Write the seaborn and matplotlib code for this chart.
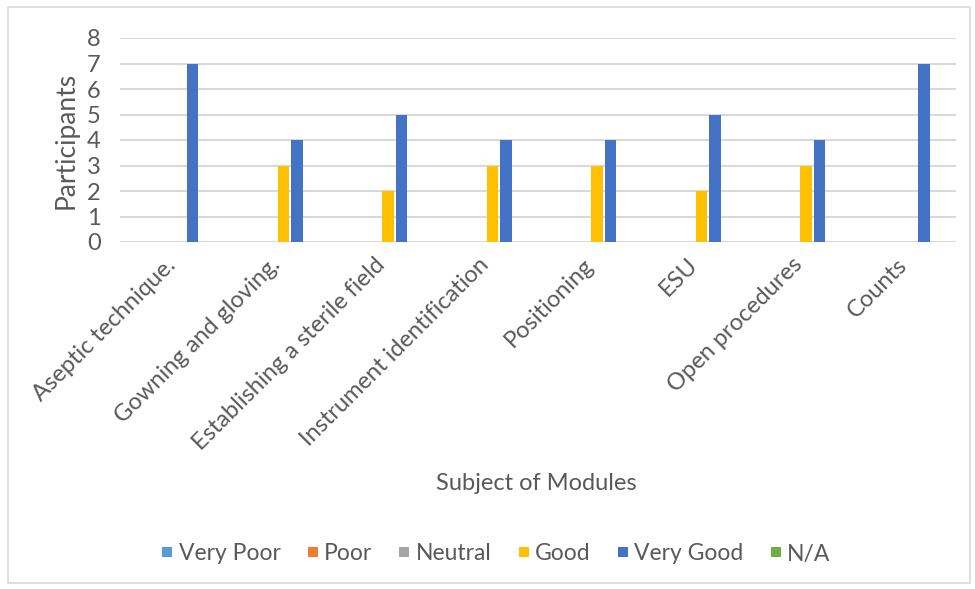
import pandas as pd
import matplotlib.pyplot as plt
import seaborn as sns
from matplotlib.patches import Rectangle
from matplotlib.lines import Line2D

# -------------------- DATA --------------------
modules = ["Aseptic technique.", "Gowning and gloving.", "Establishing a sterile field",
           "Instrument identification", "Positioning", "ESU", "Open procedures", "Counts"]
ratings = ["Very Poor", "Poor", "Neutral", "Good", "Very Good", "N/A"]
very_poor = [0, 0, 0, 0, 0, 0, 0, 0]
poor = [0, 0, 0, 0, 0, 0, 0, 0]
neutral = [0, 0, 0, 0, 0, 0, 0, 0]
good = [0, 3, 2, 3, 3, 2, 3, 0]
very_good = [7, 4, 5, 4, 4, 5, 4, 7]
na = [0, 0, 0, 0, 0, 0, 0, 0]
colors = ["#5b9bd5", "#ed7d31", "#a5a5a5", "#ffc000", "#4472c4", "#70ad47"]

# -------------------- PLOT --------------------
def main():
    series = [very_poor, poor, neutral, good, very_good, na]
    rows = []
    for r, vals in zip(ratings, series):
        for m, v in zip(modules, vals):
            rows.append({"Module": m, "Rating": r, "Participants": v})
    df = pd.DataFrame(rows)

    sns.set_style("white")
    plt.rcParams['font.family'] = ['Lato', 'DejaVu Sans']
    text_color = "#595959"

    fig = plt.figure(figsize=(9.75, 5.89), dpi=100)
    ax = fig.add_axes([120 / 975, 1 - 242 / 589, 836 / 975, 204 / 589])

    sns.barplot(data=df, x="Module", y="Participants", hue="Rating",
                hue_order=ratings, palette=colors, saturation=1, width=0.78, gap=0.15,
                linewidth=0, ax=ax, legend=False)

    ax.set_ylim(0, 8)
    ax.set_yticks(range(9))
    ax.yaxis.grid(True, color="#d9d9d9", linewidth=1.5)
    ax.set_axisbelow(True)
    for s in ax.spines.values():
        s.set_visible(False)
    ax.tick_params(axis="both", length=0, colors=text_color)
    ax.tick_params(axis="y", labelsize=17, pad=14)
    ax.tick_params(axis="x", labelsize=17, pad=14)
    plt.setp(ax.get_xticklabels(), rotation=45, ha="right", va="center",
             rotation_mode="anchor")
    ax.set_ylabel("Participants", fontsize=19, color=text_color, labelpad=6)
    ax.set_xlabel("")
    fig.text(536 / 975, 1 - 483 / 589, "Subject of Modules", ha="center", va="center",
             fontsize=17, color=text_color)

    handles = [Line2D([], [], marker="s", linestyle="", markersize=7.5,
                      markerfacecolor=c, markeredgewidth=0) for c in colors]
    fig.legend(handles, ratings, loc="center", bbox_to_anchor=(493 / 975, 1 - 554 / 589),
               ncol=6, frameon=False, fontsize=16.5, handletextpad=0.0, columnspacing=0.9,
               handlelength=1.0, labelcolor=text_color)

    fig.patches.append(Rectangle((8 / 975, 6 / 589), 962 / 975, 576 / 589,
                                 transform=fig.transFigure, fill=False,
                                 edgecolor="#d9d9d9", linewidth=1.2))

    fig.savefig("out.png", dpi=100, facecolor="white")

if __name__ == "__main__":
    main()
